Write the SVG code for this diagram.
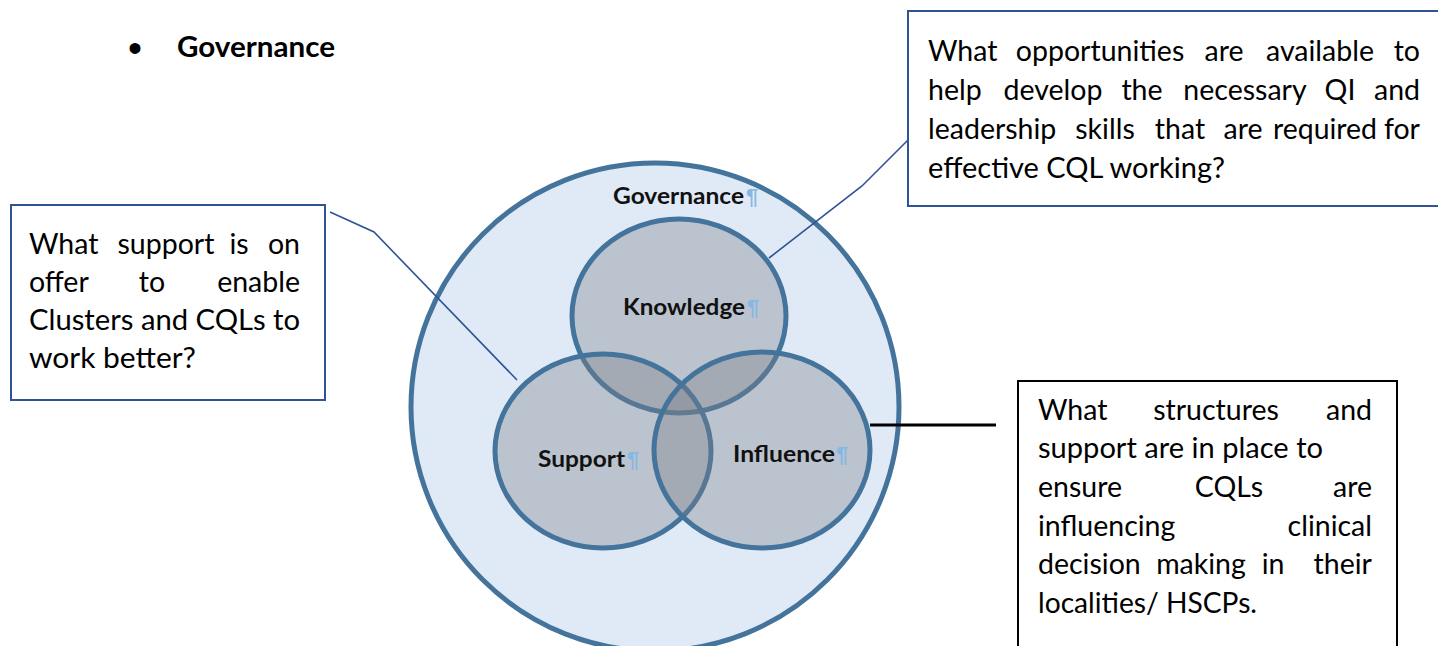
<svg xmlns="http://www.w3.org/2000/svg" width="1438" height="646" viewBox="0 0 1438 646">
<style>
.body{font-family:Lato,"Liberation Sans",sans-serif;font-size:28.5px;fill:#000}
.m{text-anchor:middle}
.e{text-anchor:end}
.lbl{font-family:Lato,"Liberation Sans",sans-serif;font-size:22px;font-weight:700;fill:#111}
.pil{font-family:"Liberation Sans",sans-serif;font-size:22px;font-weight:700;fill:#86b8e4}
.venn{fill:#7a7f88;fill-opacity:0.36;stroke:#44739c;stroke-width:5}
.box{fill:#fff;stroke:#2f5496;stroke-width:2}
.conn{fill:none;stroke:#2f5496;stroke-width:1.6}
</style>
<rect width="1438" height="646" fill="#fff"/>

<g id="heading">
<text x="128" y="62" style="font-family:'Liberation Sans',sans-serif;font-size:40px">•</text>
<text x="177" y="57" class="body" style="font-weight:700" textLength="158" lengthAdjust="spacingAndGlyphs">Governance</text>
</g>

<g id="governance">
<circle cx="655" cy="407" r="244" fill="#e0eaf6" stroke="#44739c" stroke-width="5"/>
<text x="613" y="204" class="lbl" textLength="131" lengthAdjust="spacingAndGlyphs">Governance</text>
<text x="746" y="204" class="pil">¶</text>
</g>

<g id="knowledge">
<ellipse cx="679" cy="316" rx="107" ry="97" class="venn"/>
</g>
<g id="support">
<ellipse cx="603" cy="451" rx="108" ry="97" class="venn"/>
</g>
<g id="influence">
<ellipse cx="762" cy="450" rx="108" ry="98" class="venn"/>
</g>
<g id="venn-labels">
<text x="623" y="315" class="lbl" textLength="122" lengthAdjust="spacingAndGlyphs">Knowledge</text>
<text x="747" y="315" class="pil">¶</text>
<text x="538" y="467" class="lbl" textLength="87" lengthAdjust="spacingAndGlyphs">Support</text>
<text x="627" y="467" class="pil">¶</text>
<text x="733" y="462" class="lbl" textLength="102" lengthAdjust="spacingAndGlyphs">Influence</text>
<text x="836" y="462" class="pil">¶</text>
</g>

<g id="connectors">
<polyline class="conn" points="330,212 374,232 517,380"/>
<polyline class="conn" points="769,258 862,186 913,135"/>
<line x1="870" y1="425" x2="996" y2="425" stroke="#000" stroke-width="3"/>
</g>

<g id="box-support">
<rect x="11" y="205" width="314" height="195" class="box"/>
<text class="body" x="29" y="254">What</text>
<text class="body m" x="166" y="254">support</text>
<text class="body m" x="239" y="254">is</text>
<text class="body e" x="300" y="254">on</text>
<text class="body" x="29" y="292">offer</text>
<text class="body m" x="152" y="292">to</text>
<text class="body e" x="300" y="292">enable</text>
<text class="body" x="29" y="330" textLength="271" lengthAdjust="spacingAndGlyphs">Clusters and CQLs to</text>
<text class="body" x="29" y="368" textLength="167" lengthAdjust="spacingAndGlyphs">work better?</text>
</g>

<g id="box-knowledge">
<rect x="908" y="11" width="540" height="195" class="box"/>
<text class="body" x="928" y="61">What</text>
<text class="body m" x="1100" y="61">opportunities</text>
<text class="body m" x="1224" y="61">are</text>
<text class="body m" x="1320" y="61">available</text>
<text class="body e" x="1420" y="61">to</text>
<text class="body" x="928" y="100">help</text>
<text class="body m" x="1053" y="100">develop</text>
<text class="body m" x="1142" y="100">the</text>
<text class="body m" x="1245" y="100">necessary</text>
<text class="body m" x="1340" y="100">QI</text>
<text class="body e" x="1420" y="100">and</text>
<text class="body" x="928" y="139">leadership</text>
<text class="body m" x="1105" y="139">skills</text>
<text class="body m" x="1180" y="139">that</text>
<text class="body m" x="1243" y="139">are</text>
<text class="body" x="1273" y="139" textLength="104" lengthAdjust="spacingAndGlyphs">required</text>
<text class="body e" x="1420" y="139">for</text>
<text class="body" x="928" y="178" textLength="297" lengthAdjust="spacingAndGlyphs">effective CQL working?</text>
</g>

<g id="box-influence">
<rect x="1018" y="381" width="379" height="280" fill="#fff" stroke="#000" stroke-width="2"/>
<text class="body" x="1038" y="420">What</text>
<text class="body m" x="1216" y="420">structures</text>
<text class="body e" x="1372" y="420">and</text>
<text class="body" x="1038" y="458" textLength="285" lengthAdjust="spacingAndGlyphs">support are in place to</text>
<text class="body" x="1038" y="497">ensure</text>
<text class="body m" x="1229" y="497">CQLs</text>
<text class="body e" x="1372" y="497">are</text>
<text class="body" x="1038" y="536">influencing</text>
<text class="body e" x="1372" y="536">clinical</text>
<text class="body" x="1038" y="574">decision</text>
<text class="body m" x="1201" y="574">making</text>
<text class="body m" x="1273" y="574">in</text>
<text class="body e" x="1372" y="574">their</text>
<text class="body" x="1038" y="613" textLength="219" lengthAdjust="spacingAndGlyphs">localities/ HSCPs.</text>
</g>
</svg>
